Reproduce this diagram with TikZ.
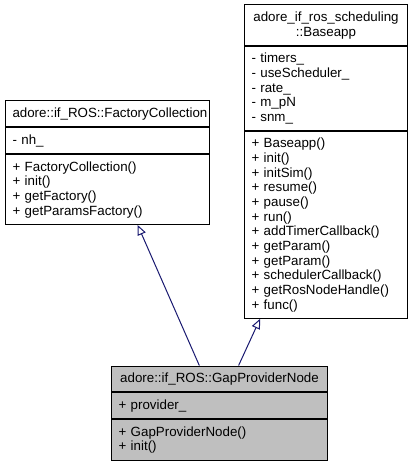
\documentclass[tikz,border=0pt]{standalone}
\usepackage{fontspec}
\setmainfont{Liberation Sans}
\usetikzlibrary{arrows.meta,calc}
\definecolor{edgeblue}{HTML}{191970}
\definecolor{curfill}{HTML}{BFBFBF}
\begin{document}
\begin{tikzpicture}[x=0.75pt,y=-0.75pt,
  fld/.style={draw=black, line width=0.75pt, anchor=north west, inner xsep=5.25pt, inner ysep=0pt,
    font=\fontsize{10pt}{11pt}\selectfont, minimum height=#1},
  lfld/.style={fld=#1, align=left},
  tfld/.style={fld=#1, align=center},
  inh/.style={draw=edgeblue, line width=0.75pt, -{Triangle[open, length=7.5pt, width=6.5pt, fill=white]}}
]
\useasboundingbox (0,0) rectangle (413,463);
% FactoryCollection
\node[tfld=19.425pt, text width=142.5pt] (fcT) at (5,100.5) {adore::if\_ROS::FactoryCollection};
\node[lfld=19.425pt, text width=142.5pt] (fcA) at (fcT.south west) {- nh\_};
\node[lfld=52.275pt, text width=142.5pt] (fcM) at (fcA.south west) {+ FactoryCollection()\\+ init()\\+ getFactory()\\+ getParamsFactory()};
% Baseapp
\node[tfld=30.375pt, text width=111.75pt] (baT) at (244,4.5) {adore\_if\_ros\_scheduling\\::Baseapp};
\node[lfld=63.225pt, text width=111.75pt] (baA) at (baT.south west) {- timers\_\\- useScheduler\_\\- rate\_\\- m\_pN\\- snm\_};
\node[lfld=139.875pt, text width=111.75pt] (baM) at (baA.south west) {+ Baseapp()\\+ init()\\+ initSim()\\+ resume()\\+ pause()\\+ run()\\+ addTimerCallback()\\+ getParam()\\+ getParam()\\+ schedulerCallback()\\+ getRosNodeHandle()\\+ func()};
% GapProviderNode
\node[tfld=19.425pt, text width=151.5pt, fill=curfill] (gpT) at (111,365.5) {adore::if\_ROS::GapProviderNode};
\node[lfld=19.425pt, text width=151.5pt, fill=curfill] (gpA) at (gpT.south west) {+ provider\_};
\node[lfld=30.375pt, text width=151.5pt, fill=curfill] (gpM) at (gpA.south west) {+ GapProviderNode()\\+ init()};
% inheritance
\draw[inh] ($(gpT.north west)!0.407!(gpT.north east)$) -- ($(fcM.south west)!0.647!(fcM.south east)$);
\draw[inh] ($(gpT.north west)!0.588!(gpT.north east)$) -- ($(baM.south west)!0.098!(baM.south east)$);
\end{tikzpicture}
\end{document}
